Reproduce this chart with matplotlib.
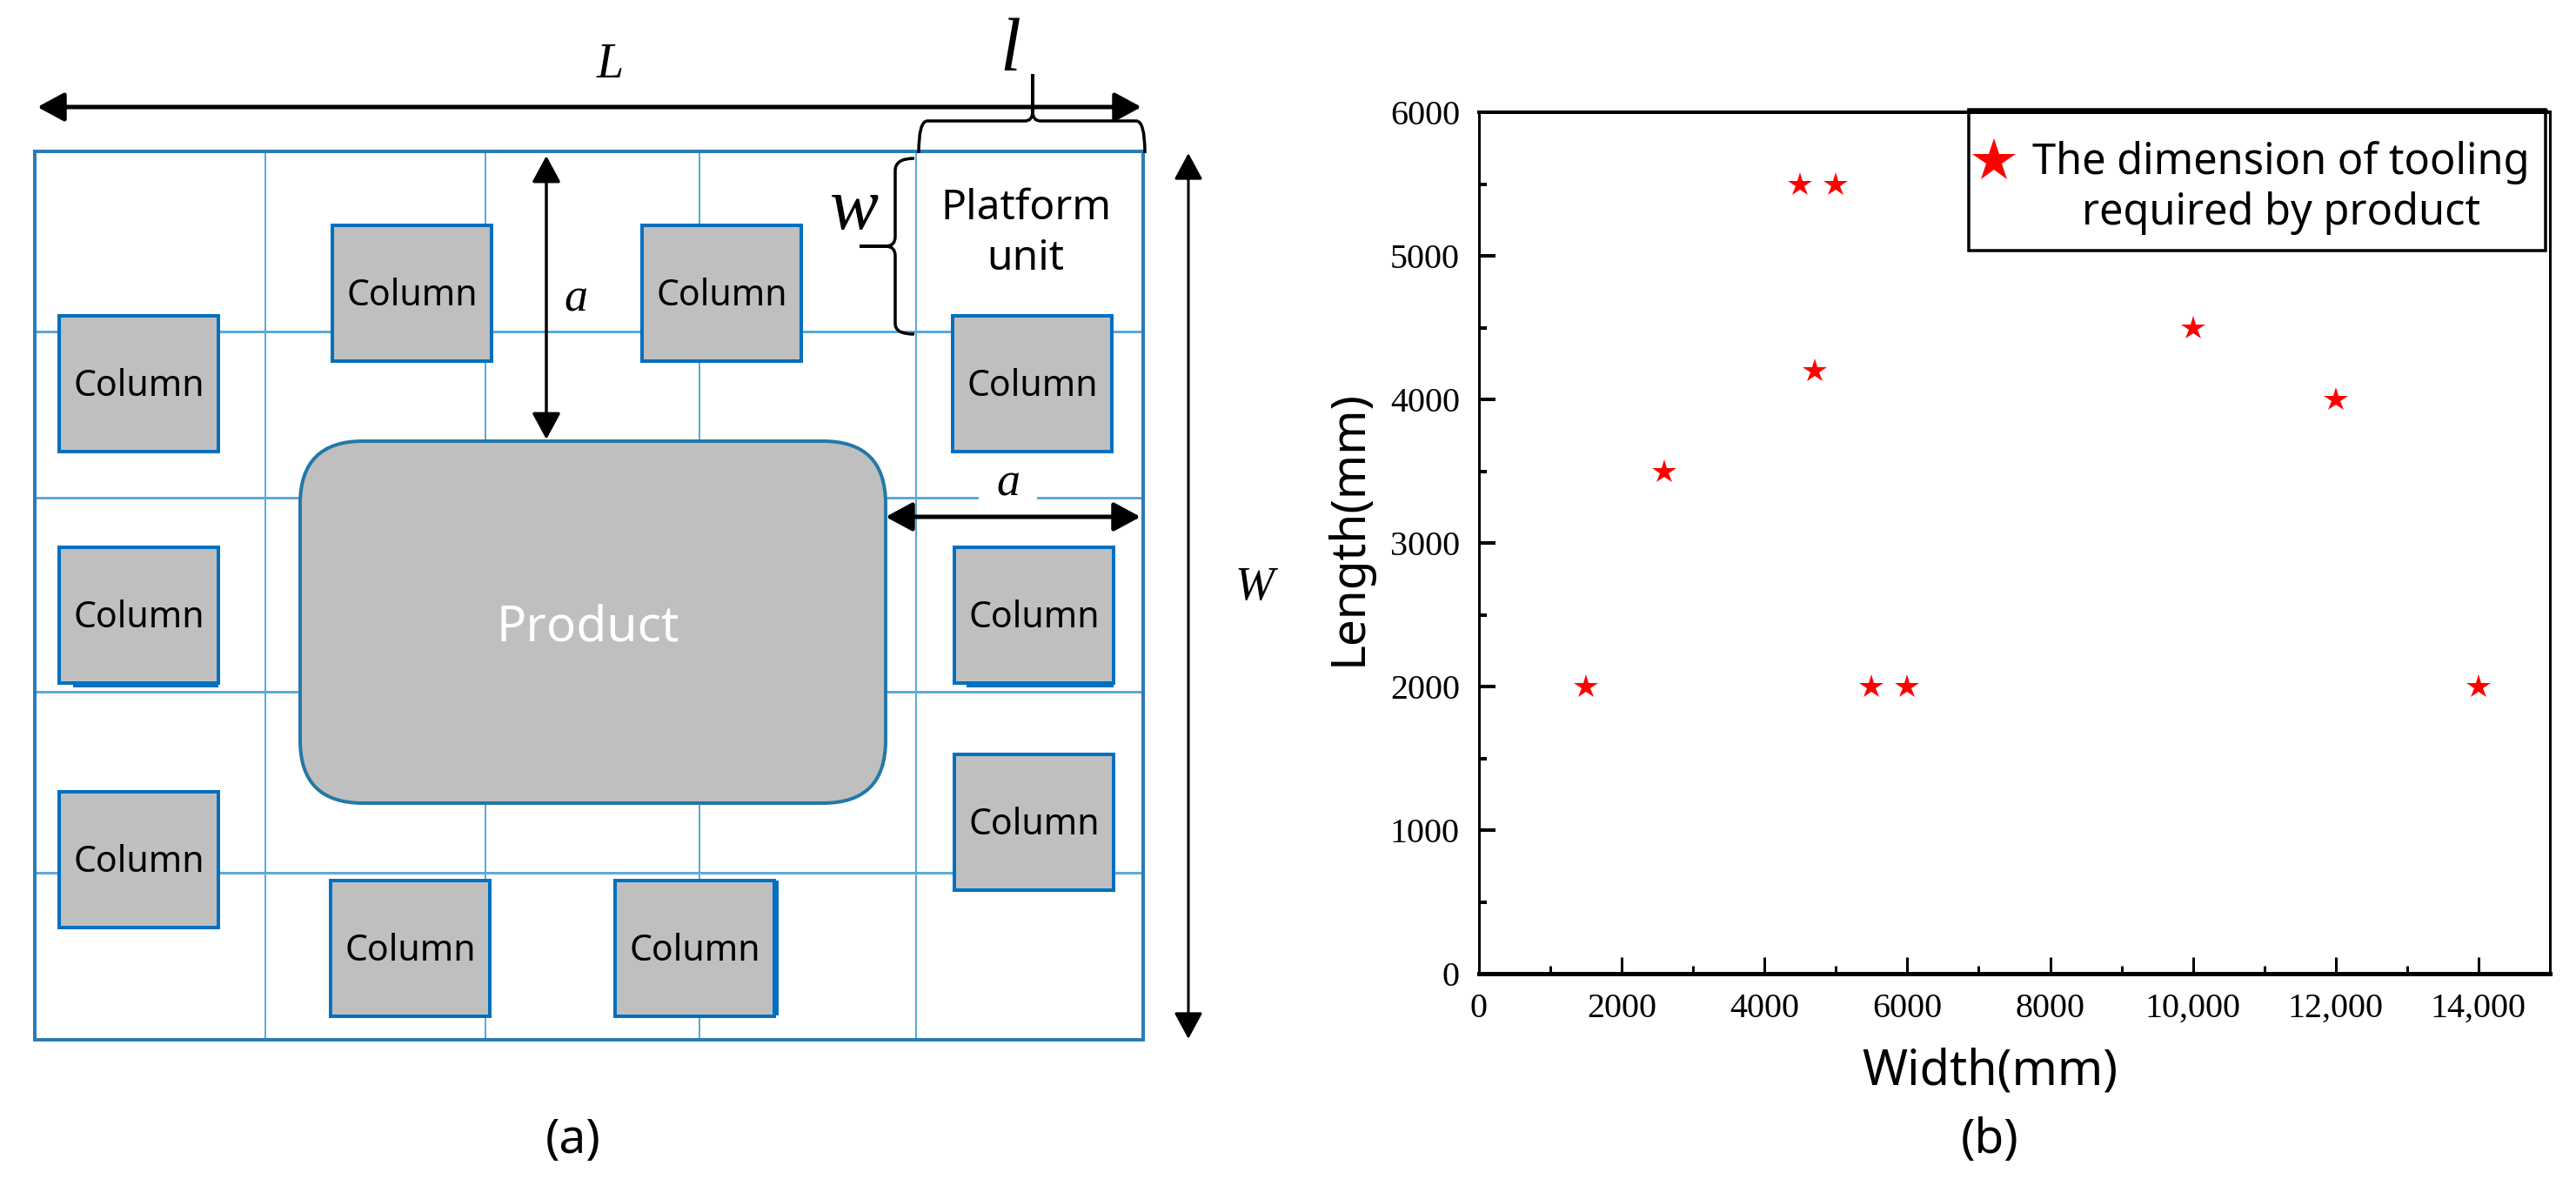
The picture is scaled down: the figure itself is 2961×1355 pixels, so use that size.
import matplotlib
matplotlib.use("Agg")
import matplotlib.pyplot as plt
from matplotlib.patches import Rectangle, FancyBboxPatch, FancyArrowPatch, PathPatch
from matplotlib.path import Path

W_PX, H_PX = 2961, 1355
PX = 0.72  # 1 px in points at dpi 100

# (b) scatter data
widths = [1500, 2600, 4500, 5000, 4700, 5500, 6000, 10000, 12000, 14000]
lengths = [2000, 3500, 5500, 5500, 4200, 2000, 2000, 4500, 4000, 2000]
x_ticks = [0, 2000, 4000, 6000, 8000, 10000, 12000, 14000]
x_labels = ["0", "2000", "4000", "6000", "8000", "10,000", "12,000", "14,000"]
x_minor = [1000, 3000, 5000, 7000, 9000, 11000, 13000]
y_ticks = [0, 1000, 2000, 3000, 4000, 5000, 6000]
y_minor = [500, 1500, 2500, 3500, 4500, 5500]

# (a) layout in picture pixels
frame = [40, 174, 1314, 1195]
grid_x = [305, 558, 804, 1053]
grid_y = [381, 572, 795, 1003]
columns = [(382, 259), (738, 259), (68, 363), (1095, 363), (68, 629), (1097, 629),
           (68, 910), (1097, 867), (380, 1012), (707, 1012)]
col_w, col_h = 183, 156
product = [345, 507, 1018, 923]

SANS = "Noto Sans"
SERIF = "Liberation Serif"
GRID = "#5BAAD9"
FRAME = "#2A7DB3"
EDGE = "#0070C0"
FILL = "#BFBFBF"

fig = plt.figure(figsize=(W_PX / 100, H_PX / 100), dpi=100)

# left panel, pixel coordinates
ax = fig.add_axes([0, 0, 1, 1])
ax.set_xlim(0, W_PX)
ax.set_ylim(H_PX, 0)
ax.axis("off")

for x in grid_x:
    ax.plot([x, x], [frame[1], frame[3]], color=GRID, lw=2 * PX, zorder=1)
for y in grid_y:
    ax.plot([frame[0], frame[2]], [y, y], color=GRID, lw=3 * PX, zorder=1)
# gap in the grid line under the small a
ax.add_patch(Rectangle((1125, 566), 67, 12, fc="white", ec="none", zorder=1.5))
ax.add_patch(Rectangle((frame[0], frame[1]), frame[2] - frame[0], frame[3] - frame[1],
                       fc="none", ec=FRAME, lw=4 * PX, zorder=2))

# thicker edges left over on three of the boxes
ax.add_patch(Rectangle((84, 780), 167, 10, fc=EDGE, ec="none", zorder=2.5))
ax.add_patch(Rectangle((1111, 780), 169, 10, fc=EDGE, ec="none", zorder=2.5))
ax.add_patch(Rectangle((885, 1012), 10, 155, fc=EDGE, ec="none", zorder=2.5))

for (x, y) in columns:
    ax.add_patch(Rectangle((x, y), col_w, col_h, fc=FILL, ec=EDGE, lw=4 * PX, zorder=3))
    ax.text(x + col_w / 2, y + col_h / 2 + 3, "Column", ha="center", va="center",
            family=SANS, fontsize=41 * PX, zorder=4)

ax.add_patch(FancyBboxPatch((product[0] + 72, product[1] + 72),
                            product[2] - product[0] - 144, product[3] - product[1] - 144,
                            boxstyle="round,pad=72,rounding_size=72",
                            fc=FILL, ec="#2378A8", lw=4 * PX, zorder=3))
ax.text(676, 722, "Product", color="white", ha="center", va="center",
        family=SANS, fontsize=57 * PX, zorder=4)


def arrow(p0, p1, lw, hl=26, hw=14):
    style = "<|-|>,head_length=%.1f,head_width=%.1f" % (hl * PX, hw * PX)
    ax.add_patch(FancyArrowPatch(p0, p1, arrowstyle=style, mutation_scale=1, shrinkA=0, shrinkB=0,
                                 color="black", lw=lw * PX, zorder=6))


arrow((43, 123), (1312, 123), 5)
arrow((628, 179), (628, 505), 3.5)
arrow((1018, 594), (1311, 594), 5)
arrow((1366, 176), (1366, 1194), 3)

# braces
M, L, C = Path.MOVETO, Path.LINETO, Path.CURVE3
l_brace = [(1056, 176), (1056, 139), (1066, 139), (1178, 139), (1187, 139), (1187, 128), (1187, 85),
           (1187, 128), (1187, 139), (1196, 139), (1306, 139), (1316, 139), (1316, 176)]
l_codes = [M, C, C, L, C, C, L, L, C, C, L, C, C]
ax.add_patch(PathPatch(Path(l_brace, l_codes), fc="none", ec="black", lw=3.5 * PX, zorder=5))
w_brace = [(1051, 182), (1029, 182), (1029, 196), (1029, 272), (1029, 283), (1018, 283), (988, 283),
           (1018, 283), (1029, 283), (1029, 294), (1029, 372), (1029, 384), (1051, 384)]
ax.add_patch(PathPatch(Path(w_brace, l_codes), fc="none", ec="black", lw=3.5 * PX, zorder=5))

ax.text(701, 75, "L", family=SERIF, style="italic", fontsize=56 * PX, ha="center", va="center", zorder=7)
ax.text(1161, 60, "l", family=SERIF, style="italic", fontsize=86 * PX, ha="center", va="center", zorder=7)
ax.text(982, 243, "w", family=SERIF, style="italic", fontsize=84 * PX, ha="center", va="center", zorder=7)
ax.text(662, 344, "a", family=SERIF, style="italic", fontsize=54 * PX, ha="center", va="center", zorder=7)
ax.text(1159, 556, "a", family=SERIF, style="italic", fontsize=54 * PX, ha="center", va="center", zorder=7)
ax.text(1442, 676, "W", family=SERIF, style="italic", fontsize=54 * PX, ha="center", va="center", zorder=7)
ax.text(1179, 240, "Platform", family=SANS, fontsize=48 * PX, ha="center", va="center", zorder=7)
ax.text(1179, 297, "unit", family=SANS, fontsize=48 * PX, ha="center", va="center", zorder=7)
ax.text(659, 1311, "(a)", family=SANS, fontsize=55 * PX, ha="center", va="center", zorder=7)
ax.text(2287, 1311, "(b)", family=SANS, fontsize=55 * PX, ha="center", va="center", zorder=7)

# right panel
ax2 = fig.add_axes([1700 / W_PX, 1 - 1119 / H_PX, 1231 / W_PX, 990 / H_PX])
ax2.patch.set_alpha(0)
ax2.plot(widths, lengths, linestyle="none", marker="*", color="#FF0000", markersize=29 * PX,
         markeredgewidth=0, label="The dimension of tooling\nrequired by product")
ax2.set_xlim(0, 15000)
ax2.set_ylim(0, 6000)
ax2.set_xticks(x_ticks)
ax2.set_xticklabels(x_labels, family=SERIF, fontsize=40 * PX)
ax2.set_xticks(x_minor, minor=True)
ax2.set_yticks(y_ticks)
ax2.set_yticklabels([str(v) for v in y_ticks], family=SERIF, fontsize=40 * PX)
ax2.set_yticks(y_minor, minor=True)
ax2.tick_params(axis="x", which="major", direction="in", length=19 * PX, width=3 * PX, pad=22 * PX)
ax2.tick_params(axis="x", which="minor", direction="in", length=9 * PX, width=3 * PX)
ax2.tick_params(axis="y", which="major", direction="in", length=19 * PX, width=4 * PX, pad=22 * PX)
ax2.tick_params(axis="y", which="minor", direction="in", length=9 * PX, width=4 * PX)
ax2.spines["left"].set_linewidth(3 * PX)
ax2.spines["right"].set_linewidth(3 * PX)
ax2.spines["top"].set_linewidth(4 * PX)
ax2.spines["bottom"].set_linewidth(5 * PX)

ax2.set_xlabel("Width(mm)", family=SANS, fontsize=56 * PX, va="center")
ax2.xaxis.set_label_coords(0.477, -0.114)
ax2.set_ylabel("Length(mm)", family=SANS, fontsize=55 * PX, va="center")
ax2.yaxis.set_label_coords(-0.122, 0.518)

# legend box drawn by hand, its padding is uneven
ax2.add_patch(Rectangle((2263 / W_PX, 1 - 288 / H_PX), 663 / W_PX, 162 / H_PX, transform=fig.transFigure,
                        fc="white", ec="black", lw=3.5 * PX, clip_on=False, zorder=4.5))
ax2.plot([2263 / W_PX, 2926 / W_PX], [1 - 128 / H_PX] * 2, transform=fig.transFigure, color="black",
         lw=5 * PX, clip_on=False, zorder=4.6)
leg = ax2.legend(loc="upper left", bbox_to_anchor=((2272 - 1700) / 1231, (1119 - 162) / 990), borderaxespad=0,
                 prop=dict(family=SANS, size=48.8 * PX), markerscale=52 / 29, numpoints=1,
                 frameon=False, handlelength=0.8, handletextpad=0.52, borderpad=0, labelspacing=0)
txt = leg.get_texts()[0]
txt.set_multialignment("center")
txt.set_linespacing(1.2)
h = leg.legend_handles[0]
h.set_ydata(h.get_ydata() + 23.5)

fig.savefig("out.png", dpi=100)
